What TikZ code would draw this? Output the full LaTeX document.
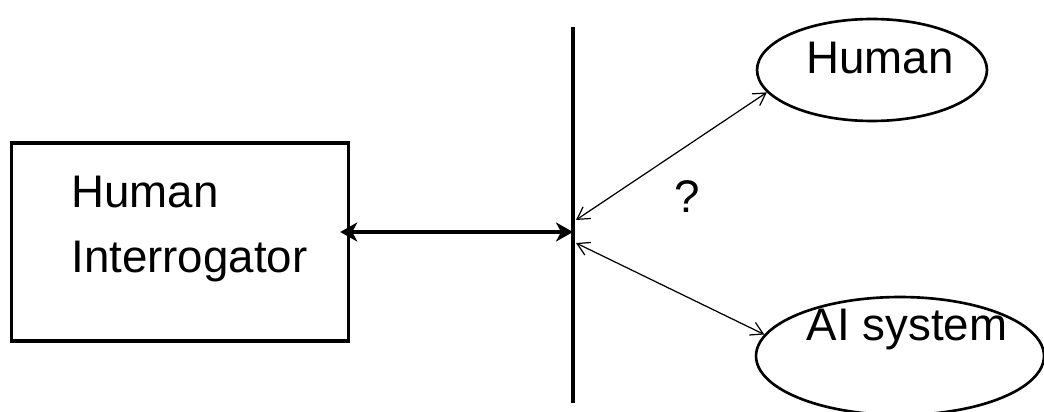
\documentclass[tikz,border=0pt]{standalone}
\usepackage{fontspec}
\setmainfont{Liberation Sans}
\usetikzlibrary{arrows.meta,positioning,shapes.geometric}

\tikzset{
  box/.style={draw, line width=2pt, minimum width=6.74cm, minimum height=3.96cm},
  oval/.style={draw, ellipse, line width=1.5pt},
  txt/.style={font=\fontsize{26}{37}\selectfont, inner sep=0pt},
  mainlink/.style={line width=2pt, {Stealth[length=0.34cm,width=0.38cm,inset=0.1cm]}-{Stealth[length=0.34cm,width=0.38cm,inset=0.1cm]}},
  sidelink/.style={line width=0.7pt, {Straight Barb[length=0.24cm,width=0.28cm]}-{Straight Barb[length=0.24cm,width=0.28cm]}}
}

\begin{document}
\begin{tikzpicture}[x=0.02cm, y=-0.02cm]
  %% Frame
  \clip (0,0) rectangle (1044,412);

  %% Interrogator box
  \node[box] (interrogator) at (180,242) {};
  \node[txt, align=left, anchor=west] (interrogatortext) at (71,229) {Human\\Interrogator};

  %% Screen
  \coordinate (walltop) at (573,27);
  \coordinate (wallbot) at (573,403);
  \coordinate (wallmid) at (573,232);
  \coordinate (wallup) at (576,220);
  \coordinate (walldown) at (576,243);
  \draw[line width=2pt] (walltop) -- (wallbot);

  %% Hidden parties
  \node[oval, minimum width=4.6cm, minimum height=2.04cm] (human) at (872,70) {};
  \node[txt] (humantext) at (880,58) {Human};
  \node[oval, minimum width=5.76cm, minimum height=2.36cm] (ai) at (900,356) {};
  \node[txt] (aitext) at (907,330) {AI system};

  %% Links
  \draw[mainlink] ([xshift=-0.2cm]interrogator.east |- wallmid) -- (wallmid);
  \draw[sidelink] (wallup) -- (human.192);
  \draw[sidelink] (walldown) -- (ai.171);
  \node[txt] (question) at (687,197) {?};
\end{tikzpicture}
\end{document}
